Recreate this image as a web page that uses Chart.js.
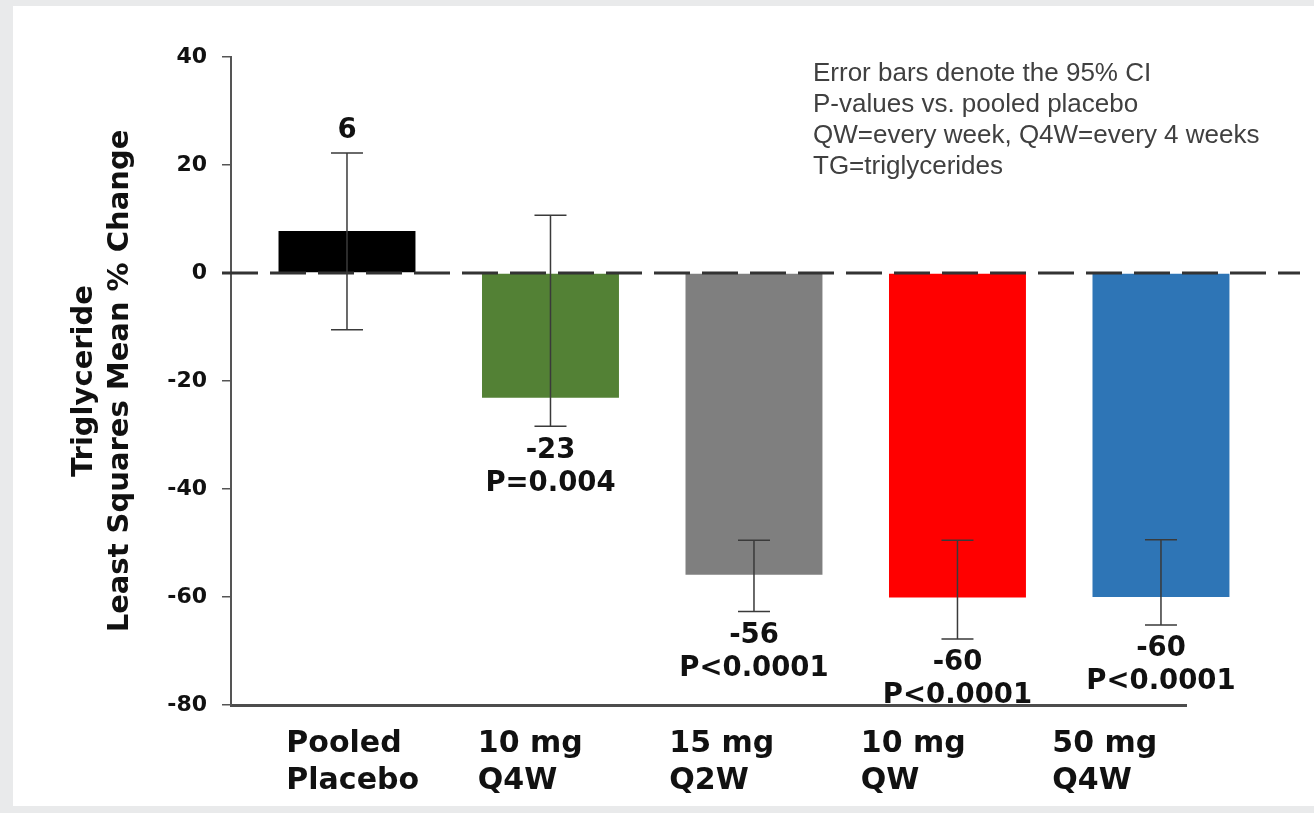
<!DOCTYPE html>
<html><head><meta charset="utf-8">
<script src="https://cdn.jsdelivr.net/npm/chart.js@4.4.0/dist/chart.umd.min.js"></script>
<style>
html,body{margin:0;padding:0;background:#e9eaeb;width:1314px;height:813px;overflow:hidden}
#panel{position:absolute;left:13px;top:6px;width:1301px;height:800px;background:#fff}
#c{position:absolute;left:0;top:0}
</style></head><body>
<div id="panel"></div>
<canvas id="c" width="1314" height="813"></canvas>
<script>
const categories = [['Pooled','Placebo'],['10 mg','Q4W'],['15 mg','Q2W'],['10 mg','QW'],['50 mg','Q4W']];
const lsMeanChange = [7.8, -23.1, -55.9, -60.1, -60.0];
const ciUpper = [22.2, 10.7, -49.5, -49.5, -49.4];
const ciLower = [-10.5, -28.4, -62.7, -67.8, -65.2];
const valueLabels = ['6','-23','-56','-60','-60'];
const pValueLabels = ['', 'P=0.004', 'P<0.0001', 'P<0.0001', 'P<0.0001'];
const barColors = ['#000000','#538135','#7f7f7f','#ff0000','#2e75b6'];
const yTicks = [40,20,0,-20,-40,-60,-80];
const notes = ['Error bars denote the 95% CI','P-values vs. pooled placebo','QW=every week, Q4W=every 4 weeks','TG=triglycerides'];

const annotate = {
  id:'annotate',
  afterDatasetsDraw(chart){
    const ctx = chart.ctx, y = chart.scales.y, meta = chart.getDatasetMeta(0);
    const y0 = y.getPixelForValue(0);
    ctx.save();
    ctx.strokeStyle = '#333'; ctx.lineWidth = 3; ctx.setLineDash([36,12]);
    ctx.beginPath(); ctx.moveTo(chart.chartArea.left - 9, y0); ctx.lineTo(chart.width - 14, y0); ctx.stroke();
    ctx.setLineDash([]);
    meta.data.forEach((bar,i)=>{
      const hi = y.getPixelForValue(ciUpper[i]), lo = y.getPixelForValue(ciLower[i]);
      ctx.strokeStyle = '#3a3a3a'; ctx.lineWidth = 1.5;
      ctx.beginPath();
      ctx.moveTo(bar.x, hi); ctx.lineTo(bar.x, lo);
      ctx.moveTo(bar.x-16, hi); ctx.lineTo(bar.x+16, hi);
      ctx.moveTo(bar.x-16, lo); ctx.lineTo(bar.x+16, lo);
      ctx.stroke();
      ctx.fillStyle = '#111'; ctx.font = 'bold 27.5px "DejaVu Sans"'; ctx.textAlign='center'; ctx.textBaseline='middle';
      if (lsMeanChange[i] >= 0) ctx.fillText(valueLabels[i], bar.x, hi - 22);
      else { ctx.fillText(valueLabels[i], bar.x, lo + 24); ctx.fillText(pValueLabels[i], bar.x, lo + 57); }
    });
    ctx.font = '26px "Liberation Sans"'; ctx.fillStyle = '#404040'; ctx.textAlign='left'; ctx.textBaseline='middle';
    notes.forEach((t,i)=> ctx.fillText(t, 813, 74 + i*31));
    ctx.restore();
  }
};

new Chart(document.getElementById('c'), {
  type:'bar',
  data:{ datasets:[{ data: categories.map((c,i)=>({x:i, y:lsMeanChange[i]})), backgroundColor: barColors, borderWidth:0, categoryPercentage:1, barPercentage:0.673, clip:false }]},
  options:{
    responsive:false, animation:false, devicePixelRatio:1,
    layout:{padding:{left:0,right:128,top:57,bottom:0}},
    plugins:{legend:{display:false}, tooltip:{enabled:false}},
    scales:{
      x:{type:'linear', position:'bottom', offset:false, min:-0.57, max:4.123, weight:0,
         afterBuildTicks(s){ s.ticks = categories.map((c,i)=>({value:i})); },
         grid:{display:false, offset:false}, ticks:{display:false}, border:{display:true,color:'#4d4d4d',width:3},
         afterFit(s){s.height=0;}},
      x2:{type:'linear', axis:'x', position:'bottom', offset:false, min:-0.289, max:4.698, weight:1,
         grid:{display:false, drawTicks:false, offset:false}, border:{display:false},
         afterBuildTicks(s){ s.ticks = categories.map((c,i)=>({value:i})); },
         ticks:{align:'start', padding:20, color:'#111', font:{family:'DejaVu Sans', weight:'bold', size:30, lineHeight:1.25}, callback:(v)=>categories[v]},
         afterFit(s){s.height=108;}},
      y:{min:-80,max:40, afterBuildTicks(s){s.ticks = yTicks.map(v=>({value:v}));},
         grid:{drawOnChartArea:false, drawTicks:true, tickLength:9, color:'#555', lineWidth:1.5},
         border:{display:true,color:'#555',width:2},
         ticks:{padding:15, color:'#111', font:{family:'DejaVu Sans',weight:'bold',size:22}},
         title:{display:true, text:['Triglyceride','Least Squares Mean % Change'], color:'#111', font:{family:'DejaVu Sans',weight:'bold',size:29,lineHeight:1.22}, padding:{top:67,bottom:0}},
         afterFit(s){s.width=231;}}
    }
  },
  plugins:[annotate]
});
</script>
</body></html>
